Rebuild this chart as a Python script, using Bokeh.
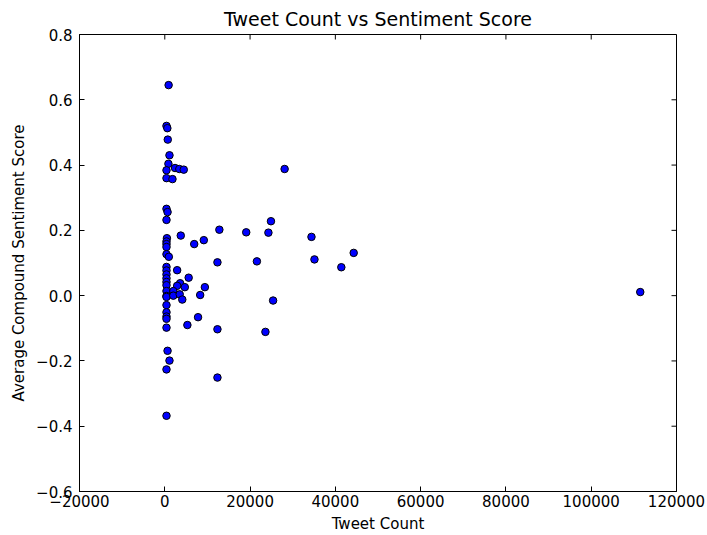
import math
from bokeh.plotting import figure
from bokeh.models import FixedTicker, ColumnDataSource
from bokeh.embed import file_html
from bokeh.resources import INLINE

# ---- data ----
tweet_count = [
    900, 400, 600, 700, 1100, 850, 400, 400, 400, 650,
    400, 500, 400, 400, 400, 400, 950, 400, 400, 400,
    400, 400, 400, 400, 400, 400, 400, 400, 400, 400,
    400, 650, 1100, 400, 400,
    2400, 3400, 4450, 1800, 3750, 12800, 19100, 6900, 9150, 12350,
    21600, 2900, 5600, 3600, 2900, 4700, 9400, 2000, 2000, 3500,
    4100, 8300, 7800, 5300, 12350, 12350, 28100, 24900, 24300, 34400,
    35100, 25400, 23600, 41400, 44300, 111500,
]
sentiment = [
    0.645, 0.520, 0.513, 0.478, 0.430, 0.404, 0.384, 0.360, 0.266, 0.256,
    0.232, 0.176, 0.166, 0.158, 0.149, 0.127, 0.119, 0.088, 0.077, 0.065,
    0.053, 0.042, 0.032, 0.014, -0.001, -0.004, -0.029, -0.051, -0.064, -0.071,
    -0.098, -0.169, -0.199, -0.226, -0.368,
    0.391, 0.388, 0.386, 0.357, 0.184, 0.202, 0.194, 0.158, 0.170, 0.102,
    0.105, 0.078, 0.055, 0.038, 0.030, 0.026, 0.026, 0.014, 0.000, 0.004,
    -0.012, 0.002, -0.066, -0.090, -0.103, -0.251, 0.388, 0.228, 0.193, 0.180,
    0.111, -0.015, -0.111, 0.087, 0.131, 0.011,
]

x_ticks = [-20000, 0, 20000, 40000, 60000, 80000, 100000, 120000]
x_tick_labels = ["\u221220000", "0", "20000", "40000", "60000", "80000", "100000", "120000"]
y_ticks = [-0.6, -0.4, -0.2, 0.0, 0.2, 0.4, 0.6, 0.8]
y_tick_labels = ["\u22120.6", "\u22120.4", "\u22120.2", "0.0", "0.2", "0.4", "0.6", "0.8"]

FONT = "DejaVu Sans"
TICK_FS = "15px"

p = figure(
    width=707, height=535,
    x_range=(x_ticks[0], x_ticks[-1]), y_range=(y_ticks[0], y_ticks[-1]),
    title="Tweet Count vs Sentiment Score",
    output_backend="svg", toolbar_location=None,
    min_border_left=79, min_border_right=31, min_border_top=34, min_border_bottom=41,
)
p.background_fill_color = "white"
p.border_fill_color = "white"
p.outline_line_color = "black"
p.outline_line_alpha = 1.0
p.outline_line_width = 1
p.grid.visible = False

p.title.text_font = FONT
p.title.text_font_size = "19px"
p.title.text_font_style = "normal"
p.title.text_color = "black"
p.title.align = "center"

def style_axis(ax, ticks, labels):
    ax.ticker = FixedTicker(ticks=ticks)
    ax.major_tick_in = 5
    ax.major_tick_out = 0
    ax.minor_tick_in = 0
    ax.minor_tick_out = 0
    ax.major_tick_line_color = "black"
    ax.axis_line_color = "black"
    ax.major_label_text_font = FONT
    ax.major_label_text_font_size = TICK_FS
    ax.major_label_text_color = "black"
    ax.axis_label_text_font = FONT
    ax.axis_label_text_font_size = TICK_FS
    ax.axis_label_text_font_style = "normal"
    ax.axis_label_text_color = "black"
    ax.major_label_overrides = {t: l for t, l in zip(ticks, labels)}

style_axis(p.xaxis[0], x_ticks, x_tick_labels)
style_axis(p.yaxis[0], y_ticks, y_tick_labels)
p.xaxis.axis_label = "Tweet Count"
p.yaxis.axis_label = "Average Compound Sentiment Score"
p.xaxis.major_label_standoff = 3
p.xaxis.axis_label_standoff = 5
p.yaxis.major_label_standoff = 7
p.yaxis.axis_label_standoff = 5

# inward ticks on the top and right frame edges
p.ray(x=x_ticks, y=[y_ticks[-1]] * len(x_ticks), length=5, length_units="screen",
      angle=-math.pi / 2, line_color="black", line_width=1)
p.ray(x=[x_ticks[-1]] * len(y_ticks), y=y_ticks, length=5, length_units="screen",
      angle=math.pi, line_color="black", line_width=1)

src = ColumnDataSource(data=dict(x=tweet_count, y=sentiment))
p.scatter("x", "y", source=src, size=7.5, fill_color="#0000ff", line_color="black", line_width=1)

open("out.html", "w").write(file_html(p, INLINE))
